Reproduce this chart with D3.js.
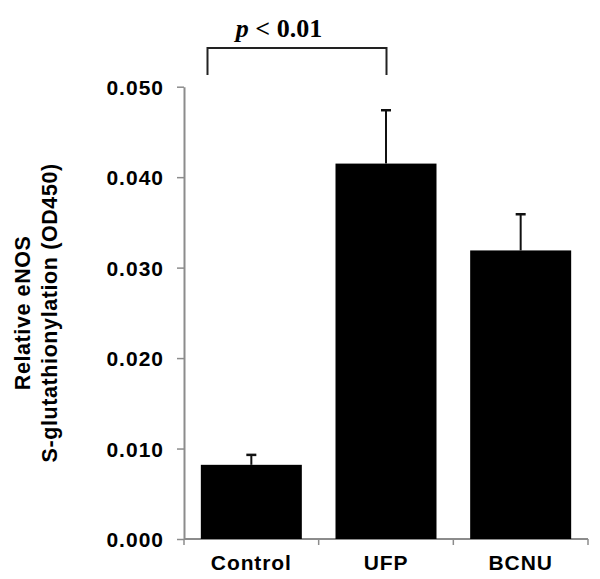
<!DOCTYPE html>
<html>
<head>
<meta charset="utf-8">
<script src="https://cdn.jsdelivr.net/npm/d3@7"></script>
<style>
  html, body { margin: 0; padding: 0; background: #fff; }
  svg { display: block; }
  .lbl { font-family: "Liberation Sans", Arial, sans-serif; font-weight: bold; fill: #000; }
</style>
</head>
<body>
<svg id="chart" width="600" height="579"></svg>
<script>
const categories = ["Control", "UFP", "BCNU"];
const means = [0.0082, 0.0415, 0.0319];
const errors = [0.0011, 0.0059, 0.0040];
const yTicks = [0.000, 0.010, 0.020, 0.030, 0.040, 0.050];
const pLabelItalic = "p";
const pLabelRest = " < 0.01";
const yTitleLines = ["Relative eNOS", "S-glutathionylation (OD450)"];

(function () {
const svg = d3.select("#chart");
const mLeft = 184, mRight = 588, mTop = 86.7, mBottom = 539;

const x = d3.scaleBand().domain(categories).range([mLeft, mRight]).paddingInner(0.25).paddingOuter(0.125);
const y = d3.scaleLinear().domain([0, 0.05]).range([mBottom, mTop]);

const axisColor = "#8c8c8c";

// Y axis
const yAxis = svg.append("g").attr("transform", `translate(${mLeft},0)`)
  .call(d3.axisLeft(y).tickValues(yTicks).tickFormat(d3.format(".3f")).tickSizeInner(7).tickSizeOuter(0).tickPadding(13));
yAxis.select(".domain").attr("stroke", axisColor).attr("stroke-width", 2);
yAxis.selectAll(".tick line").attr("stroke", axisColor).attr("stroke-width", 1.5);
yAxis.selectAll(".tick text").attr("class", "lbl").style("font-size", "21px")
  .style("letter-spacing", "1px").attr("dy", "0.36em");

// X axis: ticks at band boundaries
const xg = svg.append("g").attr("transform", `translate(0,${mBottom})`);
xg.append("line").attr("x1", mLeft).attr("x2", mRight).attr("y1", 0).attr("y2", 0)
  .attr("stroke", axisColor).attr("stroke-width", 2);
const boundaries = d3.range(categories.length + 1).map(i => mLeft + i * (mRight - mLeft) / categories.length);
xg.selectAll(".bt").data(boundaries).join("line")
  .attr("x1", d => d).attr("x2", d => d).attr("y1", 0).attr("y2", 6)
  .attr("stroke", axisColor).attr("stroke-width", 1.5);
xg.selectAll(".cl").data(categories).join("text")
  .attr("class", "lbl").style("font-size", "21px").style("letter-spacing", "0.9px")
  .attr("x", d => x(d) + x.bandwidth() / 2).attr("y", 31)
  .attr("text-anchor", "middle").text(d => d);

// Bars
const data = categories.map((c, i) => ({ c, m: means[i], e: errors[i] }));
svg.selectAll(".bar").data(data).join("rect")
  .attr("x", d => x(d.c)).attr("width", x.bandwidth())
  .attr("y", d => y(d.m)).attr("height", d => y(0) - y(d.m))
  .attr("fill", "#000");

// Error bars
const eb = svg.selectAll(".eb").data(data).join("g");
eb.append("line")
  .attr("x1", d => x(d.c) + x.bandwidth() / 2).attr("x2", d => x(d.c) + x.bandwidth() / 2)
  .attr("y1", d => y(d.m)).attr("y2", d => y(d.m + d.e))
  .attr("stroke", "#111").attr("stroke-width", 2);
eb.append("line")
  .attr("x1", d => x(d.c) + x.bandwidth() / 2 - 5).attr("x2", d => x(d.c) + x.bandwidth() / 2 + 5)
  .attr("y1", d => y(d.m + d.e)).attr("y2", d => y(d.m + d.e))
  .attr("stroke", "#111").attr("stroke-width", 2.5);

// Significance bracket between Control and UFP
const bx1 = 207.5, bx2 = 386.5, byTop = 48, byBot = 75;
svg.append("path")
  .attr("d", `M${bx1},${byBot}V${byTop}H${bx2}V${byBot}`)
  .attr("fill", "none").attr("stroke", "#222").attr("stroke-width", 2);
const pt = svg.append("text")
  .attr("x", (bx1 + bx2) / 2 - 18).attr("y", 37)
  .attr("text-anchor", "middle")
  .style("font-family", "'Liberation Serif', 'Times New Roman', serif")
  .style("font-weight", "bold").style("font-size", "26px").attr("fill", "#000");
pt.append("tspan").style("font-style", "italic").text(pLabelItalic);
pt.append("tspan").text(pLabelRest);

// Y title
const yt = svg.append("text").attr("class", "lbl").style("font-size", "21.5px")
  .style("letter-spacing", "0.6px")
  .attr("transform", `translate(0,${(mTop + mBottom) / 2}) rotate(-90)`)
  .attr("text-anchor", "middle");
yt.append("tspan").attr("x", 0).attr("y", 30).text(yTitleLines[0]);
yt.append("tspan").attr("x", 0).attr("y", 57).text(yTitleLines[1]);
})();
</script>
</body>
</html>
